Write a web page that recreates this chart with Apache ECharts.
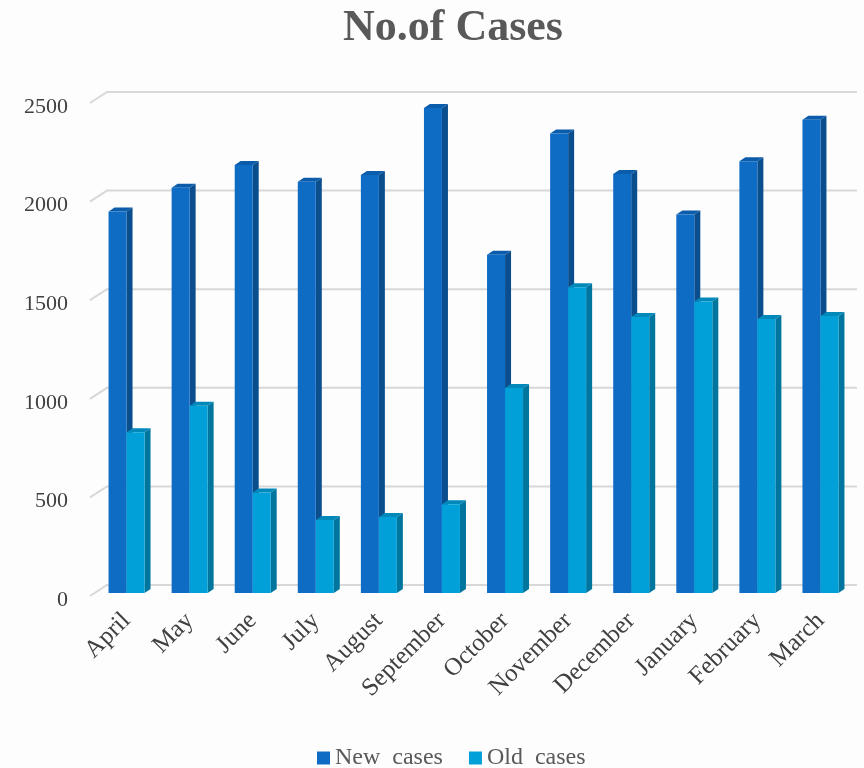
<!DOCTYPE html>
<html>
<head>
<meta charset="utf-8">
<script src="https://cdn.jsdelivr.net/npm/echarts@6/dist/echarts.min.js"></script>
<style>
  html, body { margin: 0; padding: 0; background: #fdfdfd; }
  #chart { width: 864px; height: 768px; }
</style>
</head>
<body>
<div id="chart"></div>
<script>
const months = ['April', 'May', 'June', 'July', 'August', 'September', 'October', 'November', 'December', 'January', 'February', 'March'];
const newCases = [1935, 2055, 2170, 2085, 2120, 2460, 1715, 2330, 2125, 1920, 2190, 2400];
const oldCases = [815, 950, 510, 370, 385, 450, 1040, 1550, 1400, 1478, 1390, 1405];
const yTicks = [0, 500, 1000, 1500, 2000, 2500];

const fontFamily = '"Liberation Serif", "DejaVu Serif", serif';
const depthX = 6;
const depthY = 4;
const barW = 18;

const palette = {
  newFront: '#0f6cc5',
  newSide: '#0a4e8e',
  newTop: '#0b5cab',
  oldFront: '#01a0d8',
  oldSide: '#00769f',
  oldTop: '#0388ba'
};

// fake 3d column: front face + right side + top
function columnItem(colors, leftOffset) {
  return function (params, api) {
    const top = api.coord([api.value(0), api.value(1)]);
    const base = api.coord([api.value(0), 0]);
    const x1 = top[0] + leftOffset;
    const x2 = x1 + barW;
    const yt = top[1];
    const yb = base[1];
    return {
      type: 'group',
      children: [
        {
          type: 'polygon',
          shape: { points: [[x2, yt], [x2 + depthX, yt - depthY], [x2 + depthX, yb - depthY], [x2, yb]] },
          style: { fill: colors.side }
        },
        {
          type: 'polygon',
          shape: { points: [[x1, yt], [x1 + depthX, yt - depthY], [x2 + depthX, yt - depthY], [x2, yt]] },
          style: { fill: colors.top }
        },
        {
          type: 'rect',
          shape: { x: x1, y: yt, width: barW, height: yb - yt },
          style: { fill: colors.front }
        }
      ]
    };
  };
}

// back-wall grid lines with the diagonal floor edge on the left
function gridLineItem(params, api) {
  const cs = params.coordSys;
  const y = api.coord([0, api.value(0)])[1];
  return {
    type: 'polyline',
    shape: { points: [[cs.x - 5, y + 3], [cs.x + 12, y - 8], [cs.x + cs.width + 5, y - 8]] },
    style: { stroke: '#d8d8d8', lineWidth: 2, fill: null }
  };
}

const chart = echarts.init(document.getElementById('chart'));

chart.setOption({
  backgroundColor: '#fdfdfd',
  animation: false,
  title: {
    text: 'No.of Cases',
    left: 448,
    top: 2,
    textAlign: 'center',
    textStyle: { fontFamily, fontSize: 44, fontWeight: 'bold', color: '#595959' }
  },
  legend: {
    top: 741,
    left: 312,
    itemWidth: 13,
    itemHeight: 13,
    itemGap: 26,
    icon: 'rect',
    data: ['New  cases', 'Old  cases'],
    textStyle: { fontFamily, fontSize: 24, color: '#595959' }
  },
  grid: { left: 95, right: 12, top: 100, bottom: 175 },
  xAxis: {
    type: 'category',
    data: months,
    axisLine: { show: false },
    axisTick: { show: false },
    axisLabel: { rotate: 45, margin: 24, interval: 0, fontFamily, fontSize: 25, color: '#404040' }
  },
  yAxis: {
    type: 'value',
    min: 0,
    max: 2500,
    interval: 500,
    axisLine: { show: false },
    axisTick: { show: false },
    splitLine: { show: false },
    axisLabel: {
      margin: 27,
      verticalAlign: 'top',
      lineHeight: 14,
      formatter: v => String(v),
      fontFamily,
      fontSize: 22,
      color: '#404040'
    }
  },
  series: [
    {
      name: 'grid',
      type: 'custom',
      renderItem: gridLineItem,
      data: yTicks.map(v => [v]),
      encode: { y: 0 },
      silent: true,
      z: 1
    },
    {
      name: 'New  cases',
      type: 'custom',
      renderItem: columnItem({ front: palette.newFront, side: palette.newSide, top: palette.newTop }, -barW),
      itemStyle: { color: palette.newFront },
      data: newCases.map((v, i) => [i, v]),
      encode: { x: 0, y: 1 },
      z: 2
    },
    {
      name: 'Old  cases',
      type: 'custom',
      renderItem: columnItem({ front: palette.oldFront, side: palette.oldSide, top: palette.oldTop }, 0),
      itemStyle: { color: palette.oldFront },
      data: oldCases.map((v, i) => [i, v]),
      encode: { x: 0, y: 1 },
      z: 3
    }
  ]
});
</script>
</body>
</html>
